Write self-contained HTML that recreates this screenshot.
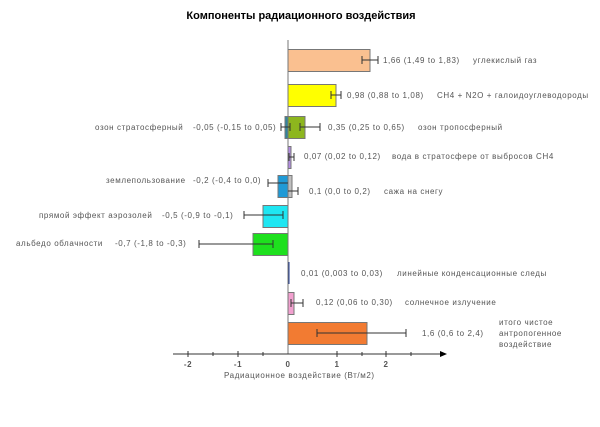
<!DOCTYPE html>
<html><head><meta charset="utf-8"><style>
body{margin:0;background:#fff}
svg text{font-family:"Liberation Sans","DejaVu Sans",sans-serif;font-size:8px;fill:#555;letter-spacing:0.6px}
</style></head><body>
<svg width="600" height="422" viewBox="0 0 600 422" xmlns="http://www.w3.org/2000/svg">
<text x="301" y="19" text-anchor="middle" style="font-size:11px;font-weight:bold;fill:#000;letter-spacing:0">Компоненты радиационного воздействия</text>
<g stroke="#777" stroke-width="1">
<rect x="288" y="49.5" width="82" height="22" fill="#fac090"/>
<rect x="288" y="84.5" width="48" height="22" fill="#ffff00"/>
<rect x="285" y="116.5" width="3" height="22" fill="#31859c"/>
<rect x="288" y="116.5" width="17" height="22" fill="#8db61e"/>
<rect x="288" y="146.5" width="3" height="22" fill="#b28ce0"/>
<rect x="278" y="175.5" width="10" height="22" fill="#1f9ad6"/>
<rect x="288" y="175.5" width="4" height="22" fill="#bfbfbf"/>
<rect x="263" y="205.5" width="25" height="22" fill="#1fe6f2"/>
<rect x="253" y="233.5" width="35" height="22" fill="#1ee01e"/>
<rect x="288" y="262.5" width="1" height="21" fill="#1f3a8f" stroke="#1f3a8f"/>
<rect x="288" y="292.5" width="6" height="22" fill="#f2a0cf"/>
<rect x="288" y="322.5" width="79" height="22" fill="#f27b32"/>
</g>
<line x1="288" y1="40" x2="288" y2="354" stroke="#777"/>
<g stroke="#333" stroke-width="1" fill="none">
<path d="M362 60H378M362 56V64M378 56V64"/>
<path d="M331 95H341M331 91V99M341 91V99"/>
<path d="M281 127H290M281 123V131M290 123V131"/>
<path d="M300 127H320M300 123V131M320 123V131"/>
<path d="M289 157H294M289 153V161M294 153V161"/>
<path d="M268 183H288M268 179V187"/>
<path d="M288 191H298M298 187V195"/>
<path d="M244 215H283M244 211V219M283 211V219"/>
<path d="M199 244H273M199 240V248M273 240V248"/>
<path d="M291 303H303M291 299V307M303 299V307"/>
<path d="M317 333H406M317 329V337M406 329V337"/>
</g>
<line x1="173" y1="354" x2="440" y2="354" stroke="#333"/>
<path d="M440 351L447 354L440 357Z" fill="#000"/>
<g stroke="#333">
<path d="M188 351V357M213 352V356M238 351V357M263 352V356M337 351V357M362 352V356M386 351V357M411 352V356"/>
</g>
<g style="font-weight:bold;fill:#333">
<text x="188" y="367" text-anchor="middle">-2</text>
<text x="238" y="367" text-anchor="middle">-1</text>
<text x="288" y="367" text-anchor="middle">0</text>
<text x="337" y="367" text-anchor="middle">1</text>
<text x="386" y="367" text-anchor="middle">2</text>
</g>
<text x="224" y="378">Радиационное воздействие (Вт/м2)</text>
<text x="383" y="63">1,66 (1,49 to 1,83)</text>
<text x="473" y="63">углекислый газ</text>
<text x="347" y="98">0,98 (0,88 to 1,08)</text>
<text x="437" y="98">CH4 + N2O + галоидоуглеводороды</text>
<text x="328" y="130">0,35 (0,25 to 0,65)</text>
<text x="418" y="130">озон тропосферный</text>
<text x="95" y="130">озон стратосферный</text>
<text x="193" y="130">-0,05 (-0,15 to 0,05)</text>
<text x="304" y="159">0,07 (0,02 to 0,12)</text>
<text x="392" y="159">вода в стратосфере от выбросов CH4</text>
<text x="106" y="183">землепользование</text>
<text x="193" y="183">-0,2 (-0,4 to 0,0)</text>
<text x="309" y="194">0,1 (0,0 to 0,2)</text>
<text x="384" y="194">сажа на снегу</text>
<text x="39" y="218">прямой эффект аэрозолей</text>
<text x="162" y="218">-0,5 (-0,9 to -0,1)</text>
<text x="16" y="246">альбедо облачности</text>
<text x="115" y="246">-0,7 (-1,8 to -0,3)</text>
<text x="301" y="276">0,01 (0,003 to 0,03)</text>
<text x="397" y="276">линейные конденсационные следы</text>
<text x="316" y="305">0,12 (0,06 to 0,30)</text>
<text x="405" y="305">солнечное излучение</text>
<text x="422" y="336">1,6 (0,6 to 2,4)</text>
<text x="499" y="325">итого чистое</text>
<text x="499" y="336">антропогенное</text>
<text x="499" y="347">воздействие</text>
</svg>
</body></html>
